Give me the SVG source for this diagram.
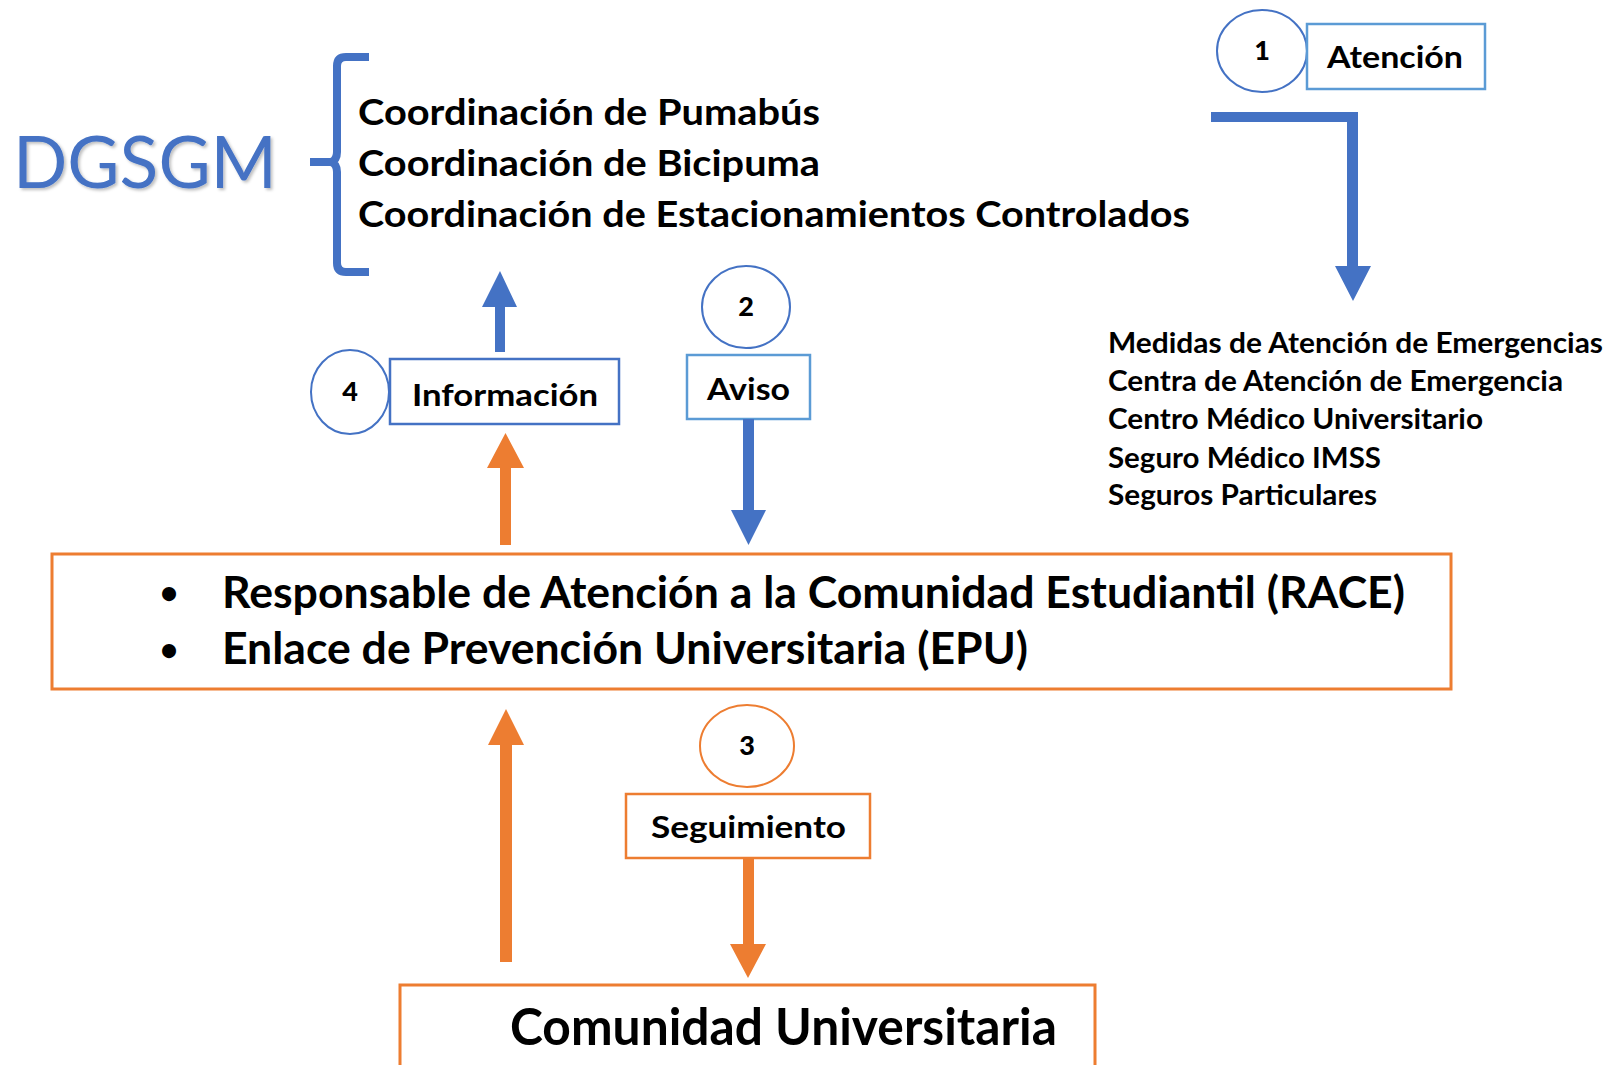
<svg xmlns="http://www.w3.org/2000/svg" width="1623" height="1065" viewBox="0 0 1623 1065">
<defs>
<style>
.t{font-family:Lato,"Liberation Sans",sans-serif;font-weight:bold;fill:#000}
.blue{fill:#4472C4}
.orange{fill:#ED7D31}
.num{font-family:Lato,"Liberation Sans",sans-serif;font-weight:900;font-size:27px;text-anchor:middle}
.bul{font-family:Lato,"Liberation Sans",sans-serif;font-weight:bold;font-size:32px;text-anchor:middle}
</style>
<filter id="sh" x="-5%" y="-10%" width="115%" height="130%">
<feDropShadow dx="2" dy="2" stdDeviation="1.5" flood-color="#000" flood-opacity="0.25"/>
</filter>
</defs>
<rect width="1623" height="1065" fill="#fff"/>

<g id="dgsgm">
<text x="13" y="188" font-family="Lato,'Liberation Sans',sans-serif" font-size="72" fill="#4472C4" textLength="264" lengthAdjust="spacingAndGlyphs" filter="url(#sh)">DGSGM</text>
<path d="M369,57 L346,57 Q337,57 337,66 L337,152 Q337,160 331,162 Q337,164 337,172 L337,263 Q337,272 346,272 L369,272 M331,162 L310,162" fill="none" stroke="#4472C4" stroke-width="8" stroke-linejoin="round"/>
</g>

<g id="coordinaciones">
<text class="t" x="358" y="125" font-size="37" textLength="462" lengthAdjust="spacingAndGlyphs">Coordinación de Pumabús</text>
<text class="t" x="358" y="176" font-size="37" textLength="462" lengthAdjust="spacingAndGlyphs">Coordinación de Bicipuma</text>
<text class="t" x="358" y="227" font-size="37" textLength="832" lengthAdjust="spacingAndGlyphs">Coordinación de Estacionamientos Controlados</text>
</g>

<g id="atencion">
<ellipse cx="1262" cy="51" rx="45" ry="41" fill="#fff" stroke="#4472C4" stroke-width="2"/>
<text class="num" x="1262" y="60">1</text>
<rect x="1307" y="24" width="178" height="65" fill="#fff" stroke="#5B9BD5" stroke-width="2.5"/>
<text class="t" x="1327" y="68" font-size="31" textLength="136" lengthAdjust="spacingAndGlyphs">Atención</text>
</g>

<g id="emergencias">
<text class="t" x="1108" y="353" font-size="28" textLength="495" lengthAdjust="spacingAndGlyphs">Medidas de Atención de Emergencias</text>
<text class="t" x="1108" y="391" font-size="28" textLength="455" lengthAdjust="spacingAndGlyphs">Centra de Atención de Emergencia</text>
<text class="t" x="1108" y="429" font-size="28" textLength="375" lengthAdjust="spacingAndGlyphs">Centro Médico Universitario</text>
<text class="t" x="1108" y="468" font-size="28" textLength="273" lengthAdjust="spacingAndGlyphs">Seguro Médico IMSS</text>
<text class="t" x="1108" y="505" font-size="28" textLength="269" lengthAdjust="spacingAndGlyphs">Seguros Particulares</text>
</g>

<g id="aviso">
<ellipse cx="746" cy="307" rx="44" ry="41" fill="#fff" stroke="#4472C4" stroke-width="2"/>
<text class="num" x="746" y="316">2</text>
<rect x="687" y="355" width="123" height="64" fill="#fff" stroke="#5B9BD5" stroke-width="2.5"/>
<text class="t" x="707" y="400" font-size="31" textLength="83" lengthAdjust="spacingAndGlyphs">Aviso</text>
</g>

<g id="informacion">
<ellipse cx="350" cy="392" rx="39" ry="42" fill="#fff" stroke="#4472C4" stroke-width="2"/>
<text class="num" x="350" y="401">4</text>
<rect x="390" y="359" width="229" height="65" fill="#fff" stroke="#4472C4" stroke-width="2.5"/>
<text class="t" x="412" y="406" font-size="31" textLength="186" lengthAdjust="spacingAndGlyphs">Información</text>
</g>

<g id="race">
<rect x="52" y="554" width="1399" height="135" fill="#fff" stroke="#ED7D31" stroke-width="3"/>
<text class="bul" x="169" y="604">•</text>
<text class="t" x="222" y="608" font-size="44" textLength="1183" lengthAdjust="spacingAndGlyphs">Responsable de Atención a la Comunidad Estudiantil (RACE)</text>
<text class="bul" x="169" y="661">•</text>
<text class="t" x="222" y="664" font-size="44" textLength="806" lengthAdjust="spacingAndGlyphs">Enlace de Prevención Universitaria (EPU)</text>
</g>

<g id="seguimiento">
<ellipse cx="747" cy="746" rx="47" ry="41" fill="#fff" stroke="#ED7D31" stroke-width="2"/>
<text class="num" x="747" y="755">3</text>
<rect x="626" y="794" width="244" height="64" fill="#fff" stroke="#ED7D31" stroke-width="2.5"/>
<text class="t" x="651" y="838" font-size="31" textLength="195" lengthAdjust="spacingAndGlyphs">Seguimiento</text>
</g>

<g id="comunidad">
<rect x="400" y="985" width="695" height="90" fill="#fff" stroke="#ED7D31" stroke-width="3"/>
<text class="t" x="510" y="1045" font-size="52" textLength="547" lengthAdjust="spacingAndGlyphs">Comunidad Universitaria</text>
</g>

<g id="connectors">
<path class="blue" d="M1211,112 L1358,112 L1358,266 L1371,266 L1353,301 L1335,266 L1347,266 L1347,122 L1211,122 Z"/>
<path class="blue" d="M495,352 L495,307 L482,307 L500,271 L517,307 L505,307 L505,352 Z"/>
<path class="orange" d="M500,545 L500,468 L487,468 L505.5,433 L524,468 L511,468 L511,545 Z"/>
<path class="blue" d="M743,419 L743,510 L731,510 L748.5,545 L766,510 L754,510 L754,419 Z"/>
<path class="orange" d="M500,962 L500,745 L488,745 L506,709 L524,745 L512,745 L512,962 Z"/>
<path class="orange" d="M743,858 L743,944 L730,944 L748,978 L766,944 L754,944 L754,858 Z"/>
</g>
</svg>
